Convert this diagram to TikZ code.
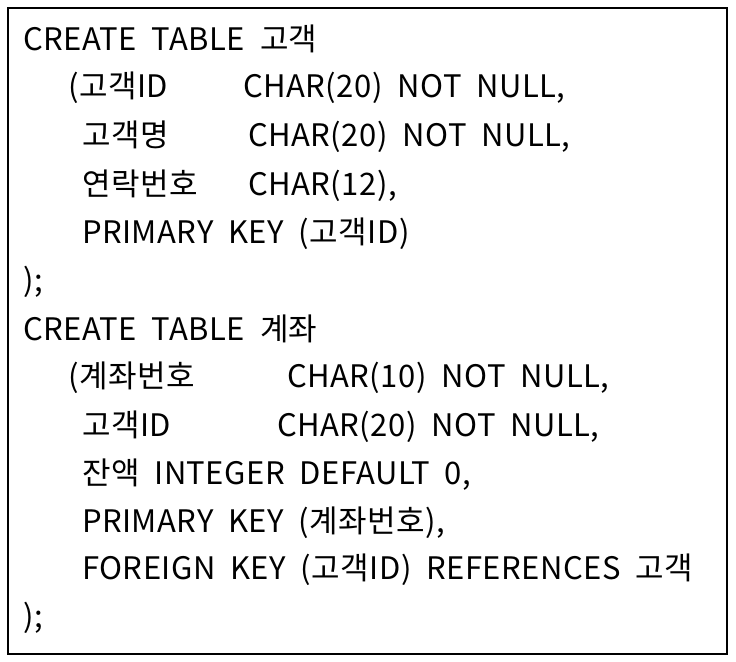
\documentclass[tikz,border=0pt]{standalone}
\usepackage{fontspec}
\newfontfamily\kr[WordSpace=2,LetterSpace=1.5]{Noto Sans CJK KR}
\begin{document}
\begin{tikzpicture}[x=1bp,y=-1bp,
  code/.style={anchor=base west,inner sep=0pt,font=\kr\fontsize{31bp}{31bp}\selectfont}]
\useasboundingbox (0,0) rectangle (736,662);
\node[draw,line width=1.8bp,minimum width=719bp,minimum height=646bp,anchor=north west,inner sep=0pt] (frame) at (7,7) {};
\node[code] (l1) at (23,51) {CREATE TABLE 고객};
\node[code] (l2a) at (68,98) {(고객ID};
\node[code] (l2b) at (243,98) {CHAR(20) NOT NULL,};
\node[code] (l3a) at (82,147) {고객명};
\node[code] (l3b) at (248,147) {CHAR(20) NOT NULL,};
\node[code] (l4a) at (82,195) {연락번호};
\node[code] (l4b) at (248,195) {CHAR(12),};
\node[code] (l5) at (82,243) {PRIMARY KEY (고객ID)};
\node[code] (l6) at (23,291) {);};
\node[code] (l7) at (23,340) {CREATE TABLE 계좌};
\node[code] (l8a) at (68,387) {(계좌번호};
\node[code] (l8b) at (287,387) {CHAR(10) NOT NULL,};
\node[code] (l9a) at (82,436) {고객ID};
\node[code] (l9b) at (277,436) {CHAR(20) NOT NULL,};
\node[code] (l10) at (82,484) {잔액 INTEGER DEFAULT 0,};
\node[code] (l11) at (82,532) {PRIMARY KEY (계좌번호),};
\node[code] (l12) at (82,579) {FOREIGN KEY (고객ID) REFERENCES 고객};
\node[code] (l13) at (23,627) {);};
\end{tikzpicture}
\end{document}
